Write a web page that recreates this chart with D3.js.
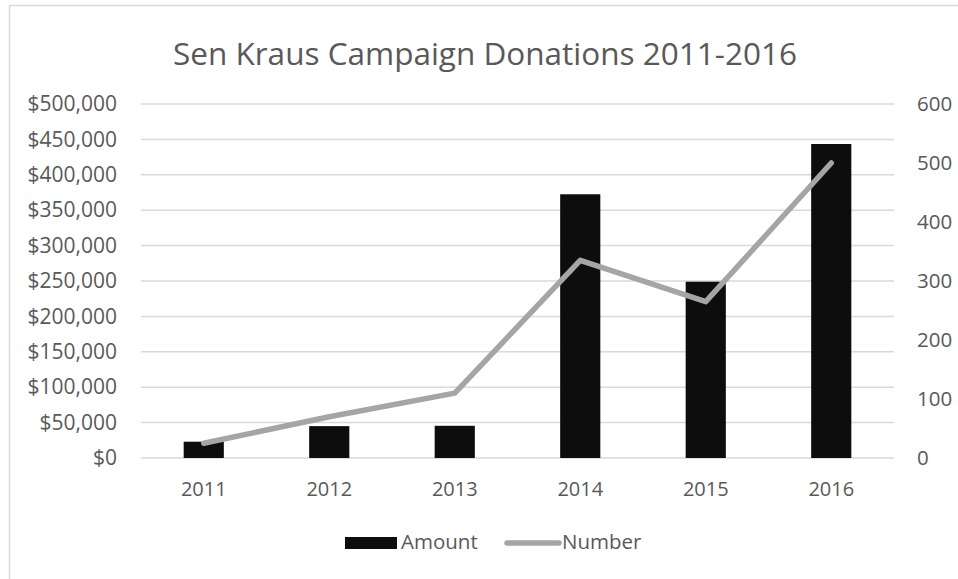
<!DOCTYPE html>
<html>
<head>
<meta charset="utf-8">
<script src="https://cdn.jsdelivr.net/npm/d3@7"></script>
<style>
  html, body { margin: 0; padding: 0; background: #fff; }
  svg { display: block; font-family: "Open Sans", sans-serif; }
</style>
</head>
<body>
<svg id="chart" width="958" height="579"></svg>
<script>
// Donation data by year
const years = ["2011", "2012", "2013", "2014", "2015", "2016"];
const amounts = [23000, 45000, 45500, 372500, 249000, 443500];
const numbers = [25, 70, 110, 335, 265, 500];
const amountTicks = [0, 50000, 100000, 150000, 200000, 250000, 300000, 350000, 400000, 450000, 500000];
const numberTicks = [0, 100, 200, 300, 400, 500, 600];
const seriesNames = ["Amount", "Number"];

const W = 958, H = 579;
const plot = { left: 141, right: 894, top: 104, bottom: 458 };
const textColor = "#595959";
const barColor = "#0d0d0d";
const lineColor = "#a5a5a5";
const gridColor = "#d9d9d9";

const svg = d3.select("#chart");

// Outer chart frame
svg.append("rect")
  .attr("x", 9.5).attr("y", 5.5)
  .attr("width", W + 20).attr("height", H + 20)
  .attr("fill", "#fff")
  .attr("stroke", "#d9d9d9").attr("stroke-width", 1.5);

// Title
svg.append("text")
  .attr("x", 485).attr("y", 65)
  .attr("text-anchor", "middle")
  .attr("fill", textColor)
  .attr("font-size", 31.5)
  .text("Sen Kraus Campaign Donations 2011-2016");

const x = d3.scaleBand()
  .domain(years)
  .range([plot.left, plot.right])
  .paddingInner(0.68)
  .paddingOuter(0.34);

const yL = d3.scaleLinear().domain([0, 500000]).range([plot.bottom, plot.top]);
const yR = d3.scaleLinear().domain([0, 600]).range([plot.bottom, plot.top]);

// Gridlines
svg.append("g")
  .selectAll("line")
  .data(amountTicks)
  .join("line")
  .attr("x1", plot.left).attr("x2", plot.right)
  .attr("y1", d => yL(d)).attr("y2", d => yL(d))
  .attr("stroke", gridColor).attr("stroke-width", 1.5);

// Left axis (dollar amounts)
const fmtDollar = d => "$" + d3.format(",")(d);
const leftAxis = svg.append("g")
  .attr("transform", `translate(${plot.left - 24},0)`)
  .call(d3.axisLeft(yL).tickValues(amountTicks).tickFormat(fmtDollar).tickSize(0).tickPadding(0));
leftAxis.select(".domain").remove();
leftAxis.selectAll("text")
  .attr("fill", textColor).attr("font-size", 21)
  .attr("font-family", "'Open Sans', sans-serif");

// Right axis (number of donations)
const rightAxis = svg.append("g")
  .attr("transform", `translate(${plot.right + 23},0)`)
  .call(d3.axisRight(yR).tickValues(numberTicks).tickSize(0).tickPadding(0));
rightAxis.select(".domain").remove();
rightAxis.selectAll("text")
  .attr("fill", textColor).attr("font-size", 20.5)
  .attr("font-family", "'Open Sans', sans-serif");

// Category axis
const bottomAxis = svg.append("g")
  .attr("transform", `translate(0,${plot.bottom})`)
  .call(d3.axisBottom(x).tickSize(0).tickPadding(24));
bottomAxis.select(".domain").remove();
bottomAxis.selectAll("text")
  .attr("fill", textColor).attr("font-size", 20)
  .attr("font-family", "'Open Sans', sans-serif");

// Bars
svg.append("g")
  .selectAll("rect")
  .data(years.map((y, i) => ({ year: y, value: amounts[i] })))
  .join("rect")
  .attr("x", d => x(d.year))
  .attr("width", x.bandwidth())
  .attr("y", d => yL(d.value))
  .attr("height", d => yL(0) - yL(d.value))
  .attr("fill", barColor);

// Line
const line = d3.line()
  .x((d, i) => x(years[i]) + x.bandwidth() / 2)
  .y(d => yR(d));
svg.append("path")
  .datum(numbers)
  .attr("d", line)
  .attr("fill", "none")
  .attr("stroke", lineColor)
  .attr("stroke-width", 5.5)
  .attr("stroke-linejoin", "round")
  .attr("stroke-linecap", "round");

// Legend
const legend = svg.append("g");
legend.append("rect")
  .attr("x", 345).attr("y", 537)
  .attr("width", 52).attr("height", 12)
  .attr("fill", barColor);
legend.append("text")
  .attr("x", 401).attr("y", 549)
  .attr("fill", textColor).attr("font-size", 20.5)
  .text(seriesNames[0]);
legend.append("line")
  .attr("x1", 507).attr("x2", 559)
  .attr("y1", 543).attr("y2", 543)
  .attr("stroke", lineColor).attr("stroke-width", 5.5)
  .attr("stroke-linecap", "round");
legend.append("text")
  .attr("x", 562).attr("y", 549)
  .attr("fill", textColor).attr("font-size", 20.5)
  .text(seriesNames[1]);
</script>
</body>
</html>
